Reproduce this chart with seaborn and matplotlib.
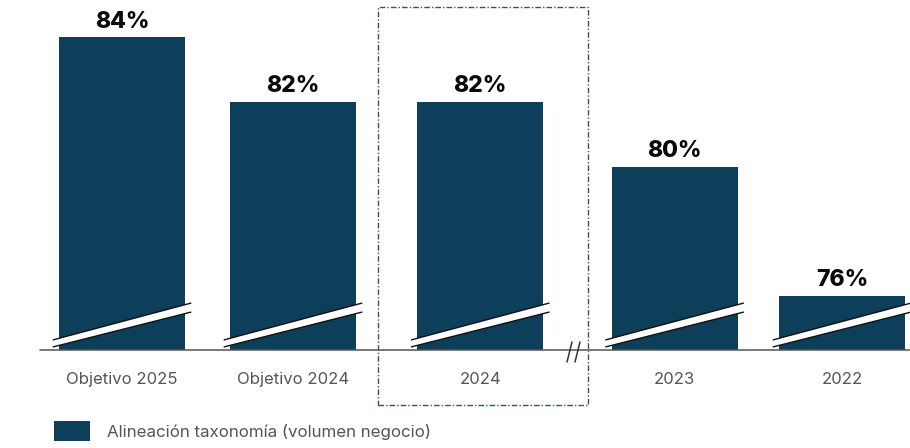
import numpy as np
import pandas as pd
import seaborn as sns
import matplotlib
matplotlib.use("Agg")
import matplotlib.pyplot as plt
from matplotlib.patches import Patch, Rectangle, Polygon
from matplotlib.transforms import blended_transform_factory

# Data
categories = ["Objetivo 2025", "Objetivo 2024", "2024", "2023", "2022"]
values = [84, 82, 82, 80, 76]
value_labels = ["84%", "82%", "82%", "80%", "76%"]
legend_label = "Alineación taxonomía (volumen negocio)"

# Layout
slot_pos = [0.0, 0.95, 1.99, 3.07, 4.0]
bar_w = 0.70
bar_color = "#0e3f5a"
y_min, y_max = 74.32, 85.16

sns.set_theme(style="white")
plt.rcParams["font.family"] = ["Inter", "DejaVu Sans"]

W, H = 910, 448
fig = plt.figure(figsize=(W / 100, H / 100), dpi=100)
ax = fig.add_axes([0, (H - 350) / H, 1, 350 / H])

df = pd.DataFrame({"pos": slot_pos, "valor": values, "cat": categories})
native = np.diff(sorted(slot_pos)).min()
sns.barplot(data=df, x="pos", y="valor", native_scale=True,
            width=bar_w / native, color=bar_color, saturation=1,
            linewidth=0, ax=ax)

ax.set_xlim(-122 / 180, (910 - 122) / 180)
ax.set_ylim(y_min, y_max)
for s in ax.spines.values():
    s.set_visible(False)
ax.set_xlabel("")
ax.set_ylabel("")
ax.set_yticks([])
ax.set_xticks(slot_pos)
ax.set_xticklabels(categories, fontsize=12, color="#555555")
ax.tick_params(axis="x", length=0, pad=16)

# Value labels above bars
for x, v, lab in zip(slot_pos, values, value_labels):
    ax.annotate(lab, (x, v), xytext=(0, 7), textcoords="offset points",
                ha="center", va="baseline", fontsize=16.5,
                fontweight="heavy", color="#0a0a0a")

# Axis-break stripes across each bar
tb = blended_transform_factory(ax.transData, ax.transAxes)
half = 0.385
for x in slot_pos:
    xl, xr = x - half, x + half
    up = [(xl, 10 / 350), (xr, 47 / 350)]
    lo = [(xl, 3 / 350), (xr, 38 / 350)]
    poly = Polygon([lo[0], lo[1], up[1], up[0]], closed=True,
                   facecolor="white", edgecolor="none", transform=tb, zorder=3)
    ax.add_patch(poly)
    for seg in (up, lo):
        ax.plot([seg[0][0], seg[1][0]], [seg[0][1], seg[1][1]],
                color="#111111", lw=1.0, transform=tb, zorder=4,
                solid_capstyle="butt")

# Baseline with break marks
ta = ax.transAxes
ax.plot([40 / W, 1], [0, 0], color="#555555", lw=1.1, transform=ta,
        clip_on=False, zorder=5)
for px in (567, 575):
    ax.plot([px / W, (px + 5) / W], [-12 / 350, 8 / 350], color="#333333",
            lw=1.1, transform=ta, clip_on=False, zorder=6)

# Highlight box around 2024
box = Rectangle((378 / W, (H - 405) / H), (588 - 378) / W, (405 - 7) / H,
                transform=fig.transFigure, fill=False, edgecolor="#34526a",
                linestyle=(0, (4, 1.5, 1, 1.5)), linewidth=1.0)
fig.patches.append(box)

# Legend
handle = Patch(facecolor=bar_color, edgecolor="none")
fig.legend([handle], [legend_label], loc="center left",
           bbox_to_anchor=(54 / W, 1 - 431 / H), frameon=False,
           fontsize=12.2, labelcolor="#555555", borderpad=0,
           borderaxespad=0, handlelength=2.1, handleheight=1.5,
           handletextpad=1.0)

fig.savefig("out.png", dpi=100)
